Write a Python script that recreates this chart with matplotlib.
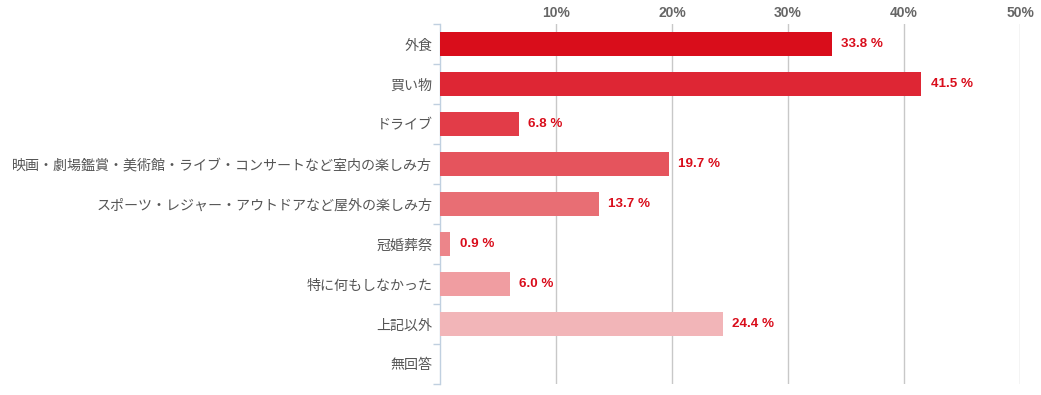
import numpy as np
import matplotlib
matplotlib.use("Agg")
import matplotlib.pyplot as plt

plt.rcParams['font.family'] = ['Noto Sans CJK JP', 'DejaVu Sans']

# data
categories = ["外食", "買い物", "ドライブ",
              "映画・劇場鑑賞・美術館・ライブ・コンサートなど室内の楽しみ方",
              "スポーツ・レジャー・アウトドアなど屋外の楽しみ方",
              "冠婚葬祭", "特に何もしなかった", "上記以外", "無回答"]
values = [33.8, 41.5, 6.8, 19.7, 13.7, 0.9, 6.0, 24.4, None]
bar_colors = ["#D90D1B", "#DE2634", "#E23C48", "#E5545D", "#E86E74",
              "#EC858A", "#F09DA1", "#F2B5B8", "#F6CDCF"]
x_ticks = [10, 20, 30, 40, 50]
x_ticklabels = ["10%", "20%", "30%", "40%", "50%"]

W, H = 1041, 395
fig = plt.figure(figsize=(W / 100, H / 100), dpi=100)
ax = fig.add_axes([440 / W, 1 - 384 / H, 580 / W, 360 / H])

ypos = np.arange(len(categories))
for y, v, c in zip(ypos, values, bar_colors):
    if v is None:
        continue
    ax.barh(y, v, height=0.6, color=c, zorder=3)
    ax.text(v + 0.8, y, f"{v:.1f} %", va="center", ha="left",
            color="#D90D1B", fontsize=9.6, fontweight="bold",
            family=["Liberation Sans", "DejaVu Sans"])

ax.set_xlim(0, 50)
ax.set_ylim(len(categories) - 0.5, -0.5)

# grid
for t in x_ticks:
    ax.axvline(t, color="#C8C8C8", lw=1, zorder=1)

ax.xaxis.tick_top()
ax.set_xticks(x_ticks)
ax.set_xticklabels(x_ticklabels, fontsize=10, fontweight="bold", color="#666666",
                   family=["Liberation Sans", "DejaVu Sans"])
ax.tick_params(axis="x", length=0, pad=3)

ax.set_yticks(ypos)
ax.set_yticklabels(categories, fontsize=10.1, color="#555555")
ax.tick_params(axis="y", length=0, pad=5.5)
ax.set_yticks(np.arange(-0.5, len(categories)), minor=True)
ax.tick_params(axis="y", which="minor", length=5, color="#C0D0E0", width=1)

for s in ["top", "right", "bottom"]:
    ax.spines[s].set_visible(False)
ax.spines["left"].set_color("#C0D0E0")
ax.spines["left"].set_linewidth(1)

fig.savefig("out.png", dpi=100)
